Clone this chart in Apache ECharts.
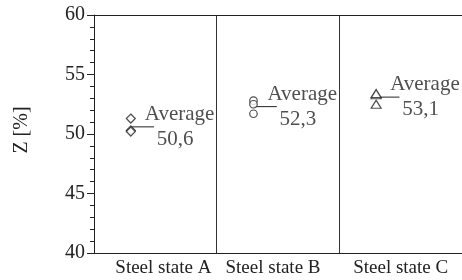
<!DOCTYPE html>
<html>
<head>
<meta charset="utf-8">
<script src="https://cdn.jsdelivr.net/npm/echarts@6/dist/echarts.min.js"></script>
<style>
  html, body { margin: 0; padding: 0; background: #fff; }
  #chart { width: 462px; height: 280px; }
</style>
</head>
<body>
<div id="chart"></div>
<script>
// categories
const categories = ['Steel state A', 'Steel state B', 'Steel state C']
// x position of each group's points inside its category (0..3 scale)
const groupPos = [0.3, 1.3, 2.3]
// measured values, Z [%]
const stateA = [51.3, 50.3, 50.2]
const stateB = [52.8, 52.5, 51.7]
const stateC = [53.3, 53.4, 52.5]
// averages as printed
const averages = [50.6, 52.3, 53.1]
const averageText = ['50,6', '52,3', '53,1']
const yTicks = [40, 45, 50, 55, 60]

const font = 'Liberation Serif, Times New Roman, serif'
const ink = '#222'

const chart = echarts.init(document.getElementById('chart'))

const groups = [stateA, stateB, stateC]
const symbols = [
  { symbol: 'diamond', size: [9, 9] },
  { symbol: 'circle', size: 7.5 },
  { symbol: 'triangle', size: [10, 8] }
]

const series = []
groups.forEach((vals, i) => {
  series.push({
    type: 'scatter',
    xAxisIndex: 1,
    symbol: symbols[i].symbol,
    symbolSize: symbols[i].size,
    itemStyle: { color: '#fff', borderColor: ink, borderWidth: 1.2 },
    data: vals.map(v => [groupPos[i], v]),
    z: 3
  })
  // average line
  series.push({
    type: 'line',
    xAxisIndex: 1,
    symbol: 'none',
    silent: true,
    lineStyle: { color: ink, width: 1 },
    data: [[groupPos[i], averages[i]], [groupPos[i] + 0.19, averages[i]]]
  })
  // average label
  series.push({
    type: 'scatter',
    xAxisIndex: 1,
    symbolSize: 0,
    silent: true,
    data: [[groupPos[i], averages[i]]],
    label: {
      show: true,
      position: 'right',
      distance: 14,
      formatter: '{a|Average}\n{b|' + averageText[i] + '}',
      rich: {
        a: { fontFamily: font, fontSize: 21, color: ink, lineHeight: 25 },
        b: { fontFamily: font, fontSize: 21, color: ink, lineHeight: 25, padding: [0, 0, 0, 12] }
      }
    }
  })
})

chart.setOption({
  animation: false,
  backgroundColor: '#fff',
  grid: { left: 94, right: -2, top: 15, bottom: 27 },
  xAxis: [
    {
      type: 'category',
      data: categories,
      position: 'bottom',
      axisLine: { show: true, lineStyle: { color: ink, width: 1 } },
      axisTick: { show: false },
      splitLine: { show: true, interval: 0, lineStyle: { color: '#333', width: 1 } },
      axisLabel: {
        fontFamily: font, fontSize: 19, color: ink, margin: 6, interval: 0,
        formatter: (v, i) => ['{l|', '{m|', '{n|'][i] + v + '}',
        rich: {
          l: { fontFamily: font, fontSize: 19, color: ink, padding: [0, 0, 0, 16] },
          m: { fontFamily: font, fontSize: 19, color: ink, padding: [0, 10, 0, 0] },
          n: { fontFamily: font, fontSize: 19, color: ink }
        }
      }
    },
    {
      type: 'value',
      position: 'top',
      min: 0,
      max: 3,
      axisLine: { show: true, lineStyle: { color: ink, width: 1 } },
      axisTick: { show: false },
      axisLabel: { show: false },
      splitLine: { show: false }
    }
  ],
  yAxis: {
    type: 'value',
    min: yTicks[0],
    max: yTicks[yTicks.length - 1],
    interval: 5,
    name: 'Z [%]',
    nameLocation: 'middle',
    nameGap: 62,
    nameRotate: 90,
    nameTextStyle: { fontFamily: font, fontSize: 20, color: ink, padding: [0, 0, 0, 8] },
    axisLine: { show: true, lineStyle: { color: ink, width: 1 } },
    axisTick: { show: true, inside: false, length: 7, lineStyle: { color: ink } },
    minorTick: { show: true, splitNumber: 5, length: 4, lineStyle: { color: ink } },
    splitLine: { show: false },
    axisLabel: { fontFamily: font, fontSize: 20, color: ink, margin: 9 }
  },
  series: series
})
</script>
</body>
</html>
